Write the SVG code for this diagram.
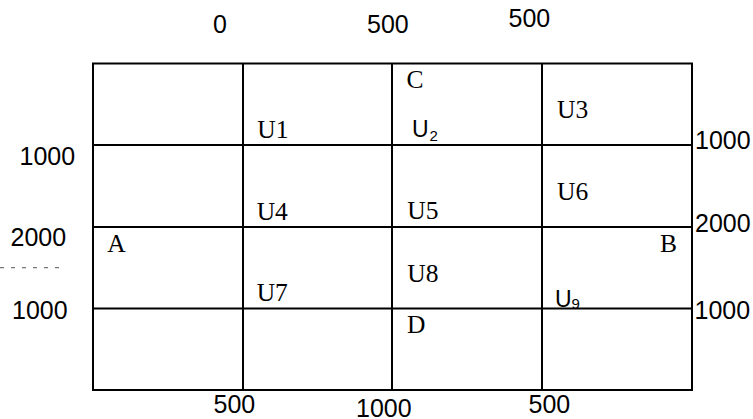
<svg xmlns="http://www.w3.org/2000/svg" width="753" height="419" viewBox="0 0 753 419">
<style>
.g{stroke:#000;stroke-width:2;fill:none}
.n{font-family:"Liberation Sans",Arial,sans-serif;font-size:25px;fill:#000}
.s{font-family:"Liberation Serif","Times New Roman",serif;font-size:25.5px;fill:#000}
.u{font-family:"Liberation Sans",Arial,sans-serif;font-size:23px;fill:#000}
.sub{font-size:15px}
</style>
<rect width="753" height="419" fill="#fff"/>
<g id="grid">
<rect class="g" x="93" y="63.5" width="599" height="326.5"/>
<line class="g" x1="243" y1="63.5" x2="243" y2="390"/>
<line class="g" x1="392" y1="63.5" x2="392" y2="390"/>
<line class="g" x1="542" y1="63.5" x2="542" y2="390"/>
<line class="g" x1="93" y1="145" x2="692" y2="145"/>
<line class="g" x1="93" y1="227" x2="692" y2="227"/>
<line class="g" x1="93" y1="308.5" x2="692" y2="308.5"/>
<line x1="0" y1="267.7" x2="66" y2="267.7" stroke="#555" stroke-width="1" stroke-dasharray="4,7"/>
</g>
<g id="top-labels">
<text class="n" x="213" y="33.3">0</text>
<text class="n" x="367" y="33.3">500</text>
<text class="n" x="508.5" y="26.7">500</text>
</g>
<g id="left-labels">
<text class="n" x="19.5" y="165">1000</text>
<text class="n" x="10.5" y="246">2000</text>
<text class="n" x="12" y="319.3">1000</text>
</g>
<g id="right-labels">
<text class="n" x="695" y="149.3">1000</text>
<text class="n" x="695" y="232.3">2000</text>
<text class="n" x="694.5" y="319.3">1000</text>
</g>
<g id="bottom-labels">
<text class="n" x="213.5" y="413.3">500</text>
<text class="n" x="356" y="416.7">1000</text>
<text class="n" x="528.5" y="413.3">500</text>
</g>
<g id="C"><text class="s" x="406.5" y="88.3">C</text></g>
<g id="A"><text class="s" x="107.3" y="251.7">A</text></g>
<g id="B"><text class="s" x="660" y="251.7">B</text></g>
<g id="D"><text class="s" x="407" y="333.3">D</text></g>
<g id="U1"><text class="s" x="257.3" y="138.3">U1</text></g>
<g id="U2"><text class="u" x="412" y="137.3">U<tspan class="sub" x="429.5" y="140.7">2</tspan></text></g>
<g id="U3"><text class="s" x="557" y="118.3">U3</text></g>
<g id="U4"><text class="s" x="256.7" y="220">U4</text></g>
<g id="U5"><text class="s" x="407.3" y="219.3">U5</text></g>
<g id="U6"><text class="s" x="557" y="200">U6</text></g>
<g id="U7"><text class="s" x="256.7" y="300.7">U7</text></g>
<g id="U8"><text class="s" x="407.3" y="281.7">U8</text></g>
<g id="U9"><text class="u" x="555" y="307.3">U<tspan class="sub" x="571.5" y="309.3">9</tspan></text></g>
</svg>
